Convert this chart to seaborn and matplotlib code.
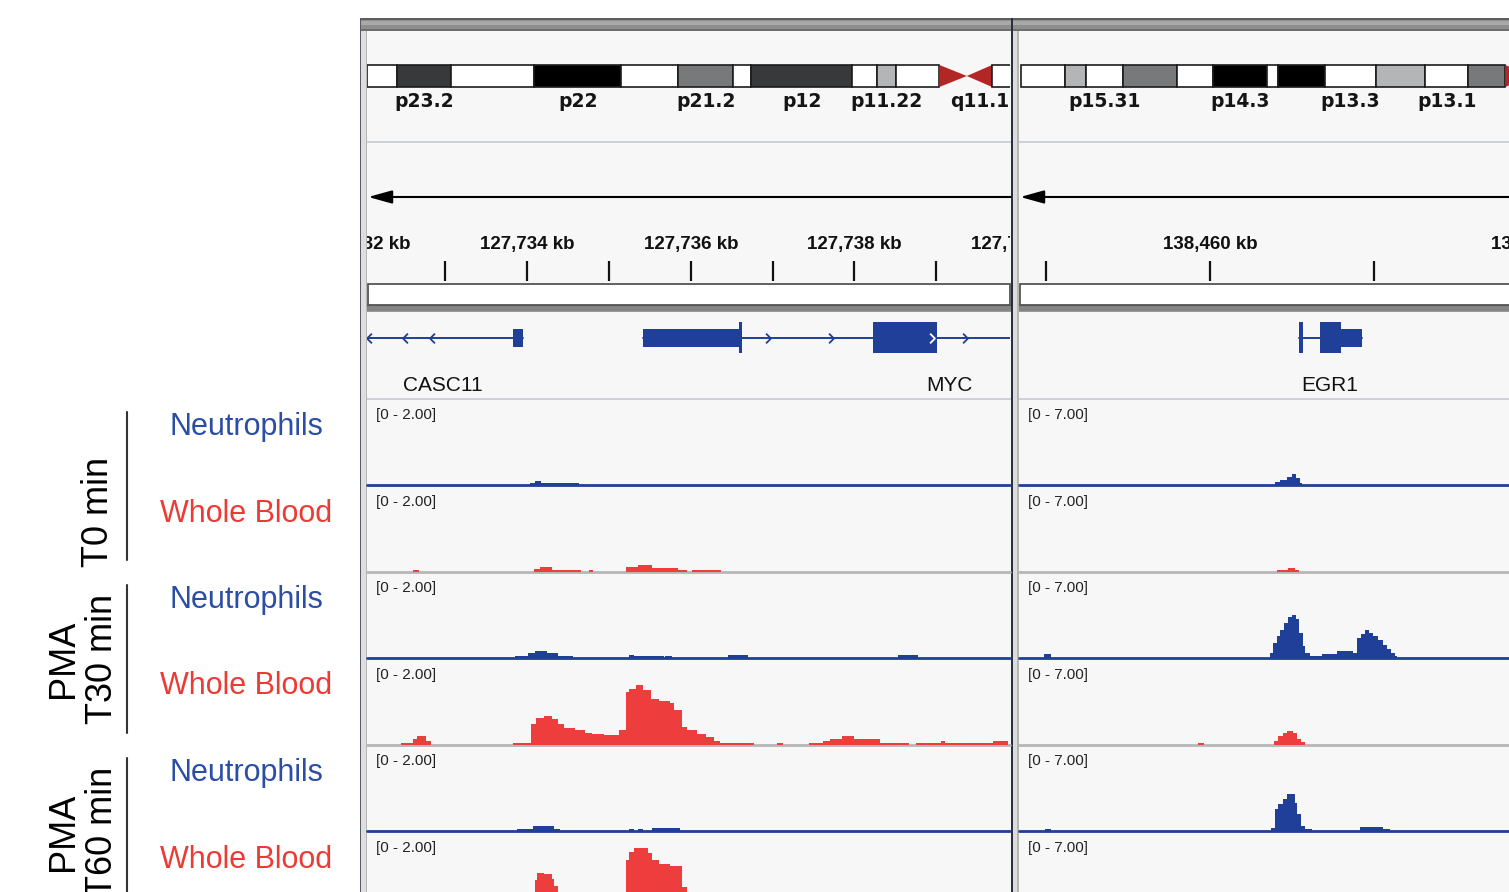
import numpy as np
import pandas as pd
import seaborn as sns
import matplotlib.pyplot as plt
from matplotlib.patches import Rectangle, Polygon
from matplotlib.path import Path

sns.set_theme(style="white")
plt.rcParams['font.family'] = ['Liberation Sans', 'DejaVu Sans']

FIG_W, FIG_H = 1509, 892

# ---------------- data ----------------
CELL_TYPES = ['Neutrophils', 'Whole Blood'] * 3
CONDITIONS = ['T0 min', 'PMA\nT30 min', 'PMA\nT60 min']

# visible loci (kb)
LEFT_LOCUS_KB = (127732.04, 127739.91)     # chr8, MYC
RIGHT_LOCUS_KB = (138458.835, 138462.762)  # chr5, EGR1
LEFT_DATA_MAX = 2.0
RIGHT_DATA_MAX = 7.0

# chr8 ideogram (Mb)
CHR8_EDGES = [0, 2.2, 6.18, 12.32, 18.76, 22.95, 26.99, 28.32, 35.78, 37.64,
              39.01, 42.21, 44.23, 46.09, 60.0]
CHR8_NAMES = ['p23.3', 'p23.2', 'p23.1', 'p22', 'p21.3', 'p21.2', 'p21.1', 'p12',
              'p11.23', 'p11.22', 'p11.21', 'p11.1', 'q11.1', 'q11.21']
CHR8_STAIN = ['gneg', 'gpos75', 'gneg', 'gpos100', 'gneg', 'gpos50', 'gneg', 'gpos75',
              'gneg', 'gpos25', 'gneg', 'acen', 'acen', 'gneg']
CHR8_SHOWN = ['p23.2', 'p22', 'p21.2', 'p12', 'p11.22', 'q11.1']

# chr5 ideogram (Mb)
CHR5_EDGES = [0, 3.92, 5.78, 9.06, 13.84, 17.0, 21.8, 22.8, 26.9, 31.4, 35.8,
              39.6, 42.9, 45.0, 47.0, 60.0]
CHR5_NAMES = ['p15.33', 'p15.32', 'p15.31', 'p15.2', 'p15.1', 'p14.3', 'p14.2', 'p14.1',
              'p13.3', 'p13.2', 'p13.1', 'p12', 'p11', 'q11.1', 'q11.2']
CHR5_STAIN = ['gneg', 'gpos25', 'gneg', 'gpos50', 'gneg', 'gpos100', 'gneg', 'gpos100',
              'gneg', 'gpos25', 'gneg', 'gpos50', 'acen', 'acen', 'gneg']
CHR5_SHOWN = ['p15.31', 'p14.3', 'p13.3', 'p13.1']

# gene models (kb)
GENE_NAMES = ['CASC11', 'MYC', 'EGR1']
GENE_STRAND = ['-', '+', '+']
GENE_START = [127731.0, 127735.416, 138460.545]
GENE_END = [127733.945, 127742.95, 138460.927]
GENE_LABEL_KB = [127732.97, 127739.16, 138460.73]
EXON_GENE = ['CASC11', 'MYC', 'MYC', 'MYC', 'EGR1', 'EGR1', 'EGR1']
EXON_START = [127733.82, 127735.416, 127736.59, 127738.225, 138460.545, 138460.671, 138460.799]
EXON_END = [127733.945, 127736.59, 127736.63, 127739.007, 138460.569, 138460.799, 138460.927]
EXON_KIND = ['utr', 'utr', 'cds', 'cds', 'cds', 'cds', 'utr']
CHEVRON_GENE = ['CASC11', 'CASC11', 'CASC11', 'MYC', 'MYC', 'MYC', 'MYC']
CHEVRON_KB = [127732.06, 127732.50, 127732.84, 127736.94, 127737.71, 127738.95, 127739.35]

# coverage: (start kb, end kb, value)
NEU_T0_MYC = [(127734.03, 127734.09, 0.04), (127734.09, 127734.17, 0.10),
              (127734.17, 127734.63, 0.04)]
WB_T0_MYC = [(127732.60, 127732.68, 0.04), (127734.08, 127734.15, 0.06),
             (127734.15, 127734.30, 0.10), (127734.30, 127734.66, 0.04),
             (127734.75, 127734.80, 0.04), (127735.21, 127735.35, 0.10),
             (127735.35, 127735.53, 0.14), (127735.53, 127735.84, 0.09),
             (127735.84, 127735.95, 0.04), (127736.02, 127736.37, 0.04)]
NEU_T30_MYC = [(127733.85, 127734.01, 0.05), (127734.01, 127734.10, 0.12),
               (127734.10, 127734.24, 0.16), (127734.24, 127734.38, 0.12),
               (127734.38, 127734.56, 0.05), (127735.24, 127735.31, 0.07),
               (127735.31, 127735.67, 0.05), (127735.69, 127735.77, 0.05),
               (127736.46, 127736.70, 0.06), (127738.53, 127738.78, 0.06)]
WB_T30_MYC = [(127732.46, 127732.60, 0.03), (127732.60, 127732.65, 0.13),
              (127732.65, 127732.76, 0.19), (127732.76, 127732.82, 0.09),
              (127733.82, 127734.04, 0.03), (127734.04, 127734.11, 0.48),
              (127734.11, 127734.20, 0.61), (127734.20, 127734.30, 0.67),
              (127734.30, 127734.38, 0.60), (127734.38, 127734.45, 0.47),
              (127734.45, 127734.58, 0.39), (127734.58, 127734.71, 0.34),
              (127734.71, 127734.79, 0.26), (127734.79, 127734.94, 0.25),
              (127734.94, 127735.12, 0.23), (127735.12, 127735.21, 0.33),
              (127735.21, 127735.25, 1.22), (127735.25, 127735.33, 1.29),
              (127735.33, 127735.41, 1.37), (127735.41, 127735.51, 1.26),
              (127735.51, 127735.61, 1.06), (127735.61, 127735.74, 1.01),
              (127735.74, 127735.79, 0.96), (127735.79, 127735.89, 0.79),
              (127735.89, 127735.95, 0.40), (127735.95, 127736.07, 0.34),
              (127736.07, 127736.18, 0.25), (127736.18, 127736.28, 0.17),
              (127736.28, 127736.36, 0.09), (127736.36, 127736.77, 0.03),
              (127737.05, 127737.13, 0.03), (127737.44, 127737.62, 0.03),
              (127737.62, 127737.70, 0.09), (127737.70, 127737.85, 0.13),
              (127737.85, 127738.00, 0.19), (127738.00, 127738.31, 0.13),
              (127738.31, 127738.67, 0.03), (127738.75, 127739.06, 0.03),
              (127739.06, 127739.11, 0.09), (127739.11, 127739.70, 0.03),
              (127739.70, 127739.88, 0.09)]
NEU_T60_MYC = [(127733.87, 127734.07, 0.05), (127734.07, 127734.33, 0.12),
               (127734.33, 127734.40, 0.05), (127735.24, 127735.30, 0.05),
               (127735.35, 127735.41, 0.05), (127735.52, 127735.87, 0.06)]
WB_T60_MYC = [(127734.09, 127734.12, 0.87), (127734.12, 127734.20, 1.04),
              (127734.20, 127734.30, 1.00), (127734.30, 127734.33, 0.88),
              (127734.33, 127734.38, 0.72), (127734.38, 127734.50, 0.55),
              (127734.50, 127735.12, 0.35), (127735.12, 127735.21, 0.50),
              (127735.21, 127735.25, 1.33), (127735.25, 127735.30, 1.52),
              (127735.30, 127735.48, 1.60), (127735.48, 127735.53, 1.49),
              (127735.53, 127735.61, 1.33), (127735.61, 127735.74, 1.24),
              (127735.74, 127735.89, 1.18), (127735.89, 127735.95, 0.71),
              (127735.95, 127736.20, 0.35)]

NEU_T0_EGR1 = [(138460.396, 138460.427, 0.22), (138460.427, 138460.468, 0.40),
               (138460.468, 138460.498, 0.62), (138460.498, 138460.524, 0.87),
               (138460.524, 138460.549, 0.54), (138460.549, 138460.559, 0.15)]
WB_T0_EGR1 = [(138460.407, 138460.477, 0.13), (138460.477, 138460.518, 0.30),
              (138460.518, 138460.545, 0.13)]
NEU_T30_EGR1 = [(138458.990, 138459.030, 0.35), (138460.366, 138460.386, 0.40),
                (138460.386, 138460.407, 1.21), (138460.407, 138460.427, 1.75),
                (138460.427, 138460.451, 2.29), (138460.451, 138460.477, 2.83),
                (138460.477, 138460.498, 3.29), (138460.498, 138460.524, 3.51),
                (138460.524, 138460.545, 3.16), (138460.545, 138460.565, 2.02),
                (138460.565, 138460.579, 0.94), (138460.579, 138460.610, 0.40),
                (138460.610, 138460.681, 0.19), (138460.681, 138460.773, 0.35),
                (138460.773, 138460.874, 0.54), (138460.874, 138460.898, 0.40),
                (138460.898, 138460.919, 1.62), (138460.919, 138460.945, 1.97),
                (138460.945, 138460.971, 2.24), (138460.971, 138460.996, 2.02),
                (138460.996, 138461.026, 1.75), (138461.026, 138461.053, 1.43),
                (138461.053, 138461.077, 1.08), (138461.077, 138461.102, 0.73),
                (138461.102, 138461.128, 0.40), (138461.128, 138461.138, 0.19)]
WB_T30_EGR1 = [(138459.929, 138459.963, 0.11), (138460.392, 138460.416, 0.27),
               (138460.416, 138460.443, 0.67), (138460.443, 138460.471, 0.92),
               (138460.471, 138460.508, 1.13), (138460.508, 138460.532, 0.92),
               (138460.532, 138460.555, 0.46), (138460.555, 138460.579, 0.19)]
NEU_T60_EGR1 = [(138458.994, 138459.029, 0.19), (138460.370, 138460.396, 0.27),
                (138460.396, 138460.416, 1.75), (138460.416, 138460.443, 2.16),
                (138460.443, 138460.471, 2.56), (138460.471, 138460.518, 2.97),
                (138460.518, 138460.532, 2.29), (138460.532, 138460.555, 1.35),
                (138460.555, 138460.579, 0.40), (138460.579, 138460.620, 0.19),
                (138460.915, 138461.057, 0.35), (138461.057, 138461.098, 0.19)]
WB_T60_EGR1 = []

LEFT_TRACKS = [NEU_T0_MYC, WB_T0_MYC, NEU_T30_MYC, WB_T30_MYC, NEU_T60_MYC, WB_T60_MYC]
RIGHT_TRACKS = [NEU_T0_EGR1, WB_T0_EGR1, NEU_T30_EGR1, WB_T30_EGR1, NEU_T60_EGR1, WB_T60_EGR1]

# ---------------- style ----------------
BLUE = '#1f3f98'
RED = '#ee3d3d'
TEXT_BLUE = '#2c4da6'
TEXT_RED = '#ec3b34'
BASE_GRAY = '#b7b7b7'
PANEL_BG = '#f7f7f7'
STAIN_COLORS = {'gneg': '#ffffff', 'gpos25': '#b3b5b6', 'gpos50': '#77797a',
                'gpos75': '#37393b', 'gpos100': '#000000', 'acen': '#b32626'}

TRACK_TOP = 398.5
TRACK_H = 86.5


def px_axes(fig, x0, y0, x1, y1):
    ax = fig.add_axes([x0 / FIG_W, 1 - y1 / FIG_H, (x1 - x0) / FIG_W, (y1 - y0) / FIG_H])
    ax.set_axis_off()
    ax.patch.set_alpha(0)
    return ax


def rect(ax, x0, y0, x1, y1, color, **kw):
    ax.add_patch(Rectangle((x0, y0), x1 - x0, y1 - y0, facecolor=color,
                           edgecolor=kw.pop('ec', 'none'), **kw))


def draw_ideogram(ax, edges, names, stains, shown):
    top, bot = 0.096, 0.519
    mid = (top + bot) / 2
    n_acen = 0
    for s, e, name, stain in zip(edges[:-1], edges[1:], names, stains):
        if stain == 'acen':
            if n_acen == 0:
                verts = [(s, top), (e, mid), (s, bot)]
            else:
                verts = [(s, mid), (e, top), (e, bot)]
            n_acen += 1
            ax.add_patch(Polygon(verts, closed=True, facecolor=STAIN_COLORS['acen'],
                                 edgecolor='none'))
        else:
            ax.add_patch(Rectangle((s, top), e - s, bot - top, facecolor=STAIN_COLORS[stain],
                                   edgecolor='#1c1c1c', lw=1.2))
        if name in shown:
            ax.text((s + e) / 2, 0.79, name, ha='center', va='center', fontsize=13.5,
                    fontweight='bold', family='DejaVu Sans', color='#151515', clip_on=True)


def draw_ruler(ax, locus):
    lo, hi = locus
    ticks = np.arange(np.floor(lo) - 1, np.ceil(hi) + 2)
    ax.vlines(ticks, 0.014, 0.156, color='#111111', lw=1.6)
    for t in ticks[ticks % 2 == 0]:
        ax.text(t, 0.27, f"{t:,.0f} kb", ha='center', va='center', fontsize=13.5,
                fontweight='bold', color='#111111', clip_on=True)
    ax.annotate('', xy=(0.002, 0.61), xytext=(1.0, 0.61), xycoords='axes fraction',
                arrowprops=dict(arrowstyle='-|>,head_length=1.44,head_width=0.4',
                                color='black', lw=1.5, shrinkA=0, shrinkB=0,
                                mutation_scale=10))


CHEV_PATH = Path([(0.25, 0.5), (-0.25, 0.0), (0.25, -0.5)],
                 [Path.MOVETO, Path.LINETO, Path.LINETO])
CHEV_PATH_R = Path([(-0.25, 0.5), (0.25, 0.0), (-0.25, -0.5)],
                   [Path.MOVETO, Path.LINETO, Path.LINETO])


def draw_genes(ax, genes):
    y0 = 0.70
    half = {'cds': 0.178, 'utr': 0.105}
    for g in genes:
        i = GENE_NAMES.index(g)
        ax.plot([GENE_START[i], GENE_END[i]], [y0, y0], color=BLUE, lw=1.4)
        ex = [k for k, eg in enumerate(EXON_GENE) if eg == g]
        for k in ex:
            h = half[EXON_KIND[k]]
            ax.add_patch(Rectangle((EXON_START[k], y0 - h), EXON_END[k] - EXON_START[k], 2 * h,
                                   facecolor=BLUE, edgecolor='none'))
        for k, cg in enumerate(CHEVRON_GENE):
            if cg != g:
                continue
            x = CHEVRON_KB[k]
            inside = any(EXON_START[j] <= x <= EXON_END[j] for j in ex)
            ax.plot([x], [y0], linestyle='none',
                    marker=CHEV_PATH if GENE_STRAND[i] == '-' else CHEV_PATH_R,
                    ms=7, mfc='none', mec='white' if inside else BLUE, mew=1.3)
        ax.text(GENE_LABEL_KB[i], 0.14, g, ha='center', va='center', fontsize=15,
                color='#111111', clip_on=True)


def draw_coverage(ax, segments, color):
    if not segments:
        return
    df = pd.DataFrame(segments, columns=['start', 'end', 'value'])
    df['mid'] = (df['start'] + df['end']) / 2
    edges = sorted(set(df['start']).union(df['end']))
    sns.histplot(data=df, x='mid', weights='value', bins=edges, element='step',
                 fill=True, color=color, alpha=1, linewidth=0, ax=ax, zorder=2)


fig = plt.figure(figsize=(FIG_W / 100, FIG_H / 100), dpi=100)
fig.patch.set_facecolor('white')

# ---------------- frame / background ----------------
bg = fig.add_axes([0, 0, 1, 1])
bg.set_xlim(0, FIG_W)
bg.set_ylim(FIG_H, 0)
bg.set_axis_off()

rect(bg, 360, 18, FIG_W, FIG_H, PANEL_BG)
# top bar
rect(bg, 360, 18, FIG_W, 31, '#8e8e8e')
rect(bg, 360, 18, FIG_W, 19.5, '#5f5f5f')
rect(bg, 360, 20.5, FIG_W, 25, '#a9a9a9')
rect(bg, 360, 28.5, FIG_W, 31, '#6e6e6e')
# header bottom bar
rect(bg, 360, 304.5, FIG_W, 312, '#858585')
rect(bg, 360, 304.5, FIG_W, 306, '#5c5c5c')
rect(bg, 360, 310.5, FIG_W, 312, '#9a9a9a')
# left border
rect(bg, 359.5, 18, 361, FIG_H, '#565b66')
rect(bg, 361, 31, 366, FIG_H, '#dedede')
rect(bg, 366, 31, 367, FIG_H, '#b6b6b6')
# divider between loci
rect(bg, 1010.5, 18, 1012.5, FIG_H, '#283040')
rect(bg, 1012.5, 31, 1017, FIG_H, '#dcdcdc')
rect(bg, 1017, 31, 1018.5, FIG_H, '#b5b5b5')

PANELS = [
    dict(x0=367, x1=1010.5, locus=LEFT_LOCUS_KB, ideo_lim=(0.0, 47.45),
         chrom=(CHR8_EDGES, CHR8_NAMES, CHR8_STAIN, CHR8_SHOWN),
         genes=['CASC11', 'MYC'], tracks=LEFT_TRACKS, dmax=LEFT_DATA_MAX),
    dict(x0=1019, x1=1663, locus=RIGHT_LOCUS_KB, ideo_lim=(-0.15, 56.84),
         chrom=(CHR5_EDGES, CHR5_NAMES, CHR5_STAIN, CHR5_SHOWN),
         genes=['EGR1'], tracks=RIGHT_TRACKS, dmax=RIGHT_DATA_MAX),
]

for p in PANELS:
    x0, x1 = p['x0'], p['x1']
    # separators and sequence box
    rect(bg, x0, 141, x1, 143, '#cdd1da')
    rect(bg, x0, 397.5, x1, 399.5, '#cdd1da')
    rect(bg, x0 + 1, 283.5, x1 - 1, 304.5, 'white', ec='#555555', lw=1.3)

    ax_ideo = px_axes(fig, x0, 60, x1, 112)
    ax_ideo.set_xlim(*p['ideo_lim'])
    ax_ideo.set_ylim(1, 0)
    draw_ideogram(ax_ideo, *p['chrom'])

    ax_rul = px_axes(fig, x0, 142, x1, 283)
    ax_rul.set_xlim(*p['locus'])
    ax_rul.set_ylim(0, 1)
    draw_ruler(ax_rul, p['locus'])

    ax_gene = px_axes(fig, x0, 312, x1, 398)
    ax_gene.set_xlim(*p['locus'])
    ax_gene.set_ylim(0, 1)
    draw_genes(ax_gene, p['genes'])

    for i, seg in enumerate(p['tracks']):
        top = TRACK_TOP + i * TRACK_H
        ax = px_axes(fig, x0, top, x1, top + TRACK_H)
        is_neu = CELL_TYPES[i] == 'Neutrophils'
        ax.axhline(0, color=BLUE if is_neu else BASE_GRAY, lw=2, clip_on=False, zorder=1)
        draw_coverage(ax, seg, BLUE if is_neu else RED)
        ax.set_xlim(*p['locus'])
        ax.set_ylim(0, p['dmax'])
        ax.set_axis_off()
        ax.annotate(f"[0 - {p['dmax']:.2f}]", xy=(0, 1), xycoords='axes fraction',
                    xytext=(6.5, -7), textcoords='offset points', ha='left', va='top',
                    fontsize=11, color='#222222')

# ---------------- sample labels ----------------
for i, name in enumerate(CELL_TYPES):
    top = TRACK_TOP + i * TRACK_H
    bg.text(246, top + 36.5, name, ha='center', va='baseline', fontsize=22,
            color=TEXT_BLUE if name == 'Neutrophils' else TEXT_RED)

GROUP_LABEL_X = [99, 83, 83]
GROUP_LABEL_DY = [113, 87.5, 87.5]
for g, cond in enumerate(CONDITIONS):
    top = TRACK_TOP + 2 * g * TRACK_H
    bg.plot([126.5, 126.5], [top + 13, top + 161.5], color='#333333', lw=1.5)
    bg.text(GROUP_LABEL_X[g], top + GROUP_LABEL_DY[g], cond, rotation=90, ha='center',
            va='center', multialignment='center', fontsize=26, color='black',
            linespacing=1.15)

fig.savefig('out.png', dpi=100, facecolor='white')
